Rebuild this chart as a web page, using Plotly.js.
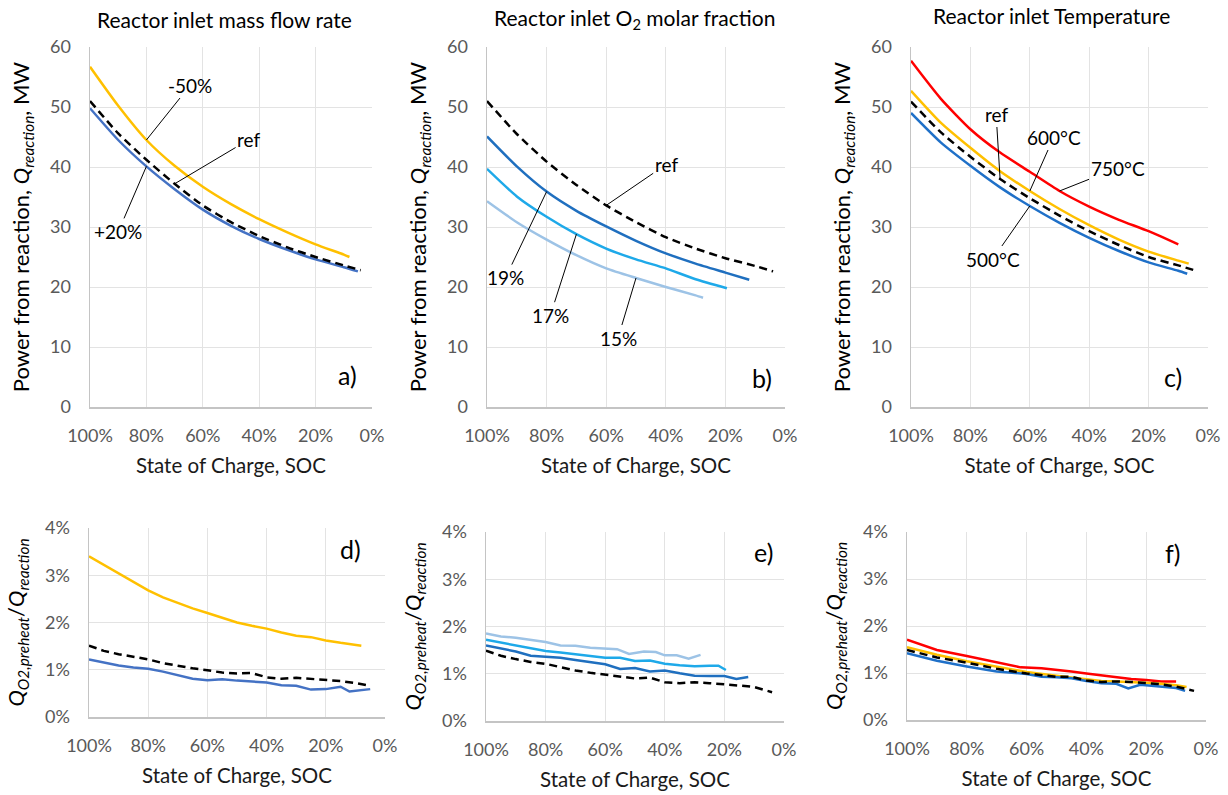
<!DOCTYPE html>
<html>
<head>
<meta charset="utf-8">
<script src="https://cdn.plot.ly/plotly-3.0.1.min.js"></script>
<style>html,body{margin:0;padding:0;background:#fff;}#chart{width:1228px;height:795px;}</style>
</head>
<body>
<div id="chart"></div>
<script>
// ---------- DATA ----------
// Top panels: SOC (fraction) and power from reaction (MW)
const socA_ref   = [1.00,0.90,0.80,0.70,0.60,0.50,0.40,0.30,0.20,0.10,0.04];
const powA_ref   = [51.0,45.6,41.2,37.2,33.6,30.8,28.5,26.6,25.0,23.6,22.8];
const socA_m50   = [1.00,0.90,0.80,0.70,0.60,0.50,0.40,0.30,0.20,0.10,0.08];
const powA_m50   = [56.7,50.2,44.5,40.2,36.7,33.8,31.3,29.1,27.1,25.4,25.0];
const socA_p20   = [1.00,0.90,0.80,0.70,0.60,0.50,0.40,0.30,0.20,0.10,0.05];
const powA_p20   = [49.8,44.5,40.1,36.3,32.9,30.2,28.0,26.2,24.6,23.3,22.6];

const socB_ref   = [1.00,0.90,0.80,0.70,0.60,0.50,0.40,0.30,0.20,0.10,0.04];
const powB_ref   = [51.0,45.5,40.9,37.0,33.6,30.8,28.3,26.4,24.8,23.5,22.6];
const socB_19    = [1.00,0.90,0.80,0.70,0.60,0.50,0.40,0.30,0.20,0.12];
const powB_19    = [45.1,40.1,35.9,32.7,30.1,27.7,25.6,23.9,22.4,21.2];
const socB_17    = [1.00,0.90,0.80,0.70,0.60,0.50,0.40,0.30,0.195];
const powB_17    = [39.7,35.1,31.7,28.8,26.4,24.6,23.1,21.3,19.8];
const socB_15    = [1.00,0.90,0.80,0.70,0.60,0.50,0.40,0.30,0.275];
const powB_15    = [34.3,30.8,27.9,25.3,23.1,21.5,20.0,18.6,18.2];

const socC_ref   = [1.00,0.90,0.80,0.70,0.60,0.50,0.40,0.30,0.20,0.10,0.04];
const powC_ref   = [50.9,45.8,41.7,38.0,34.8,31.9,29.3,27.0,25.0,23.6,22.7];
const socC_750   = [1.00,0.90,0.80,0.70,0.60,0.50,0.40,0.30,0.20,0.10];
const powC_750   = [57.7,51.4,46.3,42.4,39.2,36.0,33.4,31.2,29.3,27.1];
const socC_600   = [1.00,0.90,0.80,0.70,0.60,0.50,0.40,0.30,0.20,0.10,0.065];
const powC_600   = [52.7,47.4,43.2,39.3,36.0,33.0,30.3,27.9,25.9,24.4,23.9];
const socC_500   = [1.00,0.90,0.80,0.70,0.60,0.50,0.40,0.30,0.20,0.10,0.07];
const powC_500   = [49.0,44.1,40.2,36.6,33.5,30.7,28.2,26.0,24.1,22.7,22.2];

// Bottom panels: SOC and Q_O2,preheat / Q_reaction (fraction)
const socD_ref   = [1.00,0.95,0.90,0.85,0.80,0.75,0.70,0.65,0.60,0.55,0.50,0.45,0.40,0.35,0.30,0.25,0.20,0.15,0.10,0.05];
const ratD_ref   = [0.0151,0.0140,0.0133,0.0127,0.0122,0.0114,0.0108,0.0103,0.0099,0.0094,0.0092,0.0093,0.0084,0.0081,0.0083,0.0081,0.0079,0.0076,0.0072,0.0066];
const socD_m50   = [1.00,0.95,0.90,0.85,0.80,0.75,0.70,0.65,0.60,0.55,0.50,0.45,0.40,0.35,0.30,0.25,0.20,0.15,0.10,0.08];
const ratD_m50   = [0.0340,0.0322,0.0305,0.0286,0.0268,0.0253,0.0241,0.0230,0.0220,0.0210,0.0200,0.0193,0.0187,0.0179,0.0172,0.0169,0.0162,0.0157,0.0152,0.0151];
const socD_p20   = [1.00,0.95,0.90,0.85,0.80,0.75,0.70,0.65,0.60,0.55,0.50,0.45,0.40,0.35,0.30,0.25,0.20,0.15,0.12,0.05];
const ratD_p20   = [0.0122,0.0115,0.0109,0.0105,0.0102,0.0096,0.0089,0.0081,0.0078,0.0080,0.0077,0.0075,0.0073,0.0067,0.0066,0.0058,0.0059,0.0064,0.0054,0.0059];

const socE_ref   = [1.00,0.95,0.90,0.85,0.80,0.75,0.70,0.65,0.60,0.55,0.50,0.45,0.40,0.35,0.30,0.25,0.20,0.15,0.10,0.04];
const ratE_ref   = [0.0149,0.0138,0.0131,0.0125,0.0121,0.0114,0.0107,0.0102,0.0098,0.0093,0.0090,0.0092,0.0082,0.0080,0.0082,0.0080,0.0078,0.0075,0.0072,0.0061];
const socE_19    = [1.00,0.95,0.90,0.85,0.80,0.75,0.70,0.65,0.60,0.55,0.50,0.45,0.40,0.35,0.30,0.25,0.20,0.16,0.12];
const ratE_19    = [0.0160,0.0154,0.0147,0.0138,0.0136,0.0134,0.0129,0.0124,0.0120,0.0110,0.0112,0.0105,0.0107,0.0101,0.0096,0.0095,0.0095,0.0089,0.0093];
const socE_17    = [1.00,0.95,0.90,0.85,0.80,0.75,0.70,0.65,0.60,0.55,0.50,0.45,0.40,0.35,0.30,0.25,0.22,0.195];
const ratE_17    = [0.0172,0.0166,0.0160,0.0154,0.0148,0.0145,0.0141,0.0137,0.0134,0.0134,0.0127,0.0128,0.0121,0.0118,0.0116,0.0117,0.0117,0.0108];
const socE_15    = [1.00,0.95,0.90,0.85,0.80,0.75,0.70,0.65,0.60,0.56,0.52,0.47,0.43,0.40,0.36,0.32,0.28];
const ratE_15    = [0.0185,0.0179,0.0176,0.0172,0.0167,0.0160,0.0159,0.0155,0.0153,0.0152,0.0142,0.0147,0.0146,0.0139,0.0139,0.0132,0.0140];

const socF_ref   = [1.00,0.90,0.80,0.70,0.60,0.55,0.50,0.45,0.40,0.35,0.30,0.25,0.20,0.15,0.10,0.04];
const ratF_ref   = [0.0149,0.0133,0.0122,0.0109,0.0099,0.0095,0.0092,0.0092,0.0084,0.0081,0.0082,0.0081,0.0079,0.0076,0.0071,0.0062];
const socF_750   = [1.00,0.90,0.80,0.70,0.62,0.55,0.50,0.45,0.40,0.35,0.30,0.25,0.20,0.15,0.10];
const ratF_750   = [0.0171,0.0149,0.0136,0.0123,0.0112,0.0110,0.0107,0.0103,0.0099,0.0095,0.0090,0.0087,0.0085,0.0082,0.0082];
const socF_600   = [1.00,0.90,0.80,0.70,0.60,0.50,0.45,0.40,0.35,0.30,0.25,0.20,0.15,0.10,0.065];
const ratF_600   = [0.0155,0.0139,0.0125,0.0113,0.0102,0.0094,0.0090,0.0086,0.0083,0.0082,0.0081,0.0079,0.0077,0.0074,0.0070];
const socF_500   = [1.00,0.90,0.80,0.70,0.60,0.55,0.50,0.45,0.40,0.35,0.30,0.26,0.22,0.20,0.15,0.10,0.07];
const ratF_500   = [0.0142,0.0126,0.0114,0.0103,0.0098,0.0092,0.0091,0.0089,0.0083,0.0078,0.0077,0.0067,0.0075,0.0074,0.0071,0.0068,0.0062];

// Text
const panelTitles = ["Reactor inlet mass flow rate", "Reactor inlet O<sub>2</sub> molar fraction", "Reactor inlet Temperature"];
const panelLetters = ["a)", "b)", "c)", "d)", "e)", "f)"];
const xTickVals = [1.0, 0.8, 0.6, 0.4, 0.2, 0.0];
const xTitle = "State of Charge, SOC";
const yTitleTop = "Power from reaction, <i>Q</i><sub><i>reaction</i></sub>, MW";
const yTitleBot = "<i>Q</i><sub><i>O2,preheat</i></sub>/<i>Q</i><sub><i>reaction</i></sub>";

// ---------- STYLE ----------
const FONT = "Lato, 'Open Sans', sans-serif";
const YEL = "#FFC000", BLU = "#4472C4", RED = "#FF0000", BLU_C = "#1F70C8";
const B19 = "#1F6FBF", B17 = "#1EA9E9", B15 = "#9DC3E6";
const LW = 2.5;

function tr(x, y, color, axis, dashed, smooth) {
  return {
    type: "scatter", mode: "lines", x: x, y: y,
    xaxis: "x" + axis, yaxis: "y" + axis,
    line: { color: color, width: LW, dash: dashed ? "8px,5px" : "solid", shape: smooth ? "spline" : "linear", smoothing: 0.6 },
    hoverinfo: "skip", showlegend: false
  };
}

const data = [
  tr(socA_m50, powA_m50, YEL, "", false, true),
  tr(socA_p20, powA_p20, BLU, "", false, true),
  tr(socA_ref, powA_ref, "#000", "", true, true),
  tr(socB_15, powB_15, B15, "2", false, true),
  tr(socB_17, powB_17, B17, "2", false, true),
  tr(socB_19, powB_19, B19, "2", false, true),
  tr(socB_ref, powB_ref, "#000", "2", true, true),
  tr(socC_750, powC_750, RED, "3", false, true),
  tr(socC_600, powC_600, YEL, "3", false, true),
  tr(socC_500, powC_500, BLU_C, "3", false, true),
  tr(socC_ref, powC_ref, "#000", "3", true, true),
  tr(socD_m50, ratD_m50, YEL, "4", false, false),
  tr(socD_p20, ratD_p20, BLU, "4", false, false),
  tr(socD_ref, ratD_ref, "#000", "4", true, false),
  tr(socE_15, ratE_15, B15, "5", false, false),
  tr(socE_17, ratE_17, B17, "5", false, false),
  tr(socE_19, ratE_19, B19, "5", false, false),
  tr(socE_ref, ratE_ref, "#000", "5", true, false),
  tr(socF_750, ratF_750, RED, "6", false, false),
  tr(socF_600, ratF_600, YEL, "6", false, false),
  tr(socF_500, ratF_500, BLU_C, "6", false, false),
  tr(socF_ref, ratF_ref, "#000", "6", true, false)
];

const W = 1228, H = 795;
function px2x(p) { return p / W; }
function px2y(p) { return 1 - p / H; }

function xax(l, r, anchor) {
  return {
    domain: [px2x(l), px2x(r)], anchor: anchor, range: [1, 0], autorange: false,
    tickvals: xTickVals, tickformat: ".0%", ticks: "", ticklabelstandoff: 12,
    tickfont: { family: FONT, size: 18, color: "#595959" },
    showgrid: true, gridcolor: "#e3e3e3", gridwidth: 1,
    showline: true, linecolor: "#c4c4c4", linewidth: 1.5, zeroline: false,
    title: { text: xTitle, font: { family: FONT, size: 20.5, color: "#1a1a1a" }, standoff: 13 },
    automargin: false, fixedrange: true
  };
}
function yax(t, b, anchor, top) {
  const o = {
    domain: [px2y(b), px2y(t)], anchor: anchor, autorange: false,
    ticks: "", ticklabelstandoff: 14,
    tickfont: { family: FONT, size: 18, color: "#595959" },
    showgrid: true, gridcolor: "#e3e3e3", gridwidth: 1,
    showline: true, linecolor: "#c4c4c4", linewidth: 1.5, zeroline: false,
    title: { text: top ? yTitleTop : yTitleBot, font: { family: FONT, size: 22, color: "#000" }, standoff: 14 },
    automargin: false, fixedrange: true
  };
  if (top) { o.range = [0, 60]; o.dtick = 10; o.tick0 = 0; }
  else { o.range = [0, 0.04]; o.dtick = 0.01; o.tick0 = 0; o.tickformat = ".0%"; }
  return o;
}

const layout = {
  width: W, height: H, margin: { l: 0, r: 0, t: 0, b: 0 },
  paper_bgcolor: "#fff", plot_bgcolor: "#fff",
  font: { family: FONT, color: "#000" }, showlegend: false,
  xaxis:  xax(90, 372, "y"),   yaxis:  yax(47, 407, "x", true),
  xaxis2: xax(487, 785, "y2"), yaxis2: yax(47, 407, "x2", true),
  xaxis3: xax(911, 1208, "y3"), yaxis3: yax(47, 407, "x3", true),
  xaxis4: xax(89, 385, "y4"),  yaxis4: yax(528, 717, "x4", false),
  xaxis5: xax(486, 784, "y5"), yaxis5: yax(532, 721, "x5", false),
  xaxis6: xax(907, 1206, "y6"), yaxis6: yax(532, 720, "x6", false),
  annotations: []
};

// subplot titles
const titlePos = [[224, 20], [634, 19], [1051, 16]];
panelTitles.forEach((t, i) => layout.annotations.push({
  text: t, xref: "paper", yref: "paper", x: px2x(titlePos[i][0]), y: px2y(titlePos[i][1]),
  xanchor: "center", yanchor: "middle", showarrow: false, font: { family: FONT, size: 21, color: "#000" }
}));
// panel letters
const letterPos = [[347, 375], [762, 378], [1173, 377], [350, 549], [763, 552], [1173, 553]];
panelLetters.forEach((t, i) => layout.annotations.push({
  text: t, xref: "paper", yref: "paper", x: px2x(letterPos[i][0]), y: px2y(letterPos[i][1]),
  xanchor: "center", yanchor: "middle", showarrow: false, font: { family: FONT, size: 25, color: "#000" }
}));
// curve labels with leader lines, anchored on data points
function lab(axis, xs, ys, idx, text, ax, ay) {
  layout.annotations.push({
    text: text, xref: "x" + axis, yref: "y" + axis, x: xs[idx], y: ys[idx],
    ax: ax, ay: ay, axref: "pixel", ayref: "pixel",
    showarrow: true, arrowhead: 0, arrowwidth: 1, arrowcolor: "#000", standoff: 0, startstandoff: 0,
    font: { family: FONT, size: 19, color: "#000" }
  });
}
lab("", socA_m50, powA_m50, 2, "-50%", 44, -55);
lab("", socA_ref, powA_ref, 3, "ref", 74, -44);
lab("", socA_p20, powA_p20, 2, "+20%", -28, 65);
lab("2", socB_ref, powB_ref, 4, "ref", 60, -41);
lab("2", socB_19, powB_19, 2, "19%", -41, 86);
lab("2", socB_17, powB_17, 3, "17%", -26, 81);
lab("2", socB_15, powB_15, 5, "15%", -18, 60);
lab("3", socC_ref, powC_ref, 3, "ref", -4, -65);
lab("3", socC_600, powC_600, 4, "600°C", 24, -54);
lab("3", socC_750, powC_750, 5, "750°C", 58, -23);
lab("3", socC_500, powC_500, 4, "500°C", -37, 53);

Plotly.newPlot("chart", data, layout, { staticPlot: true, displayModeBar: false });
</script>
</body>
</html>
